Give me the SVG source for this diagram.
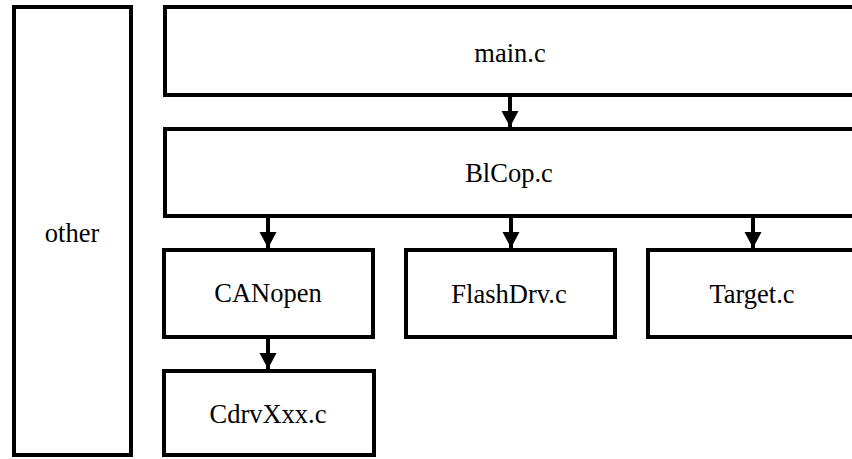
<svg xmlns="http://www.w3.org/2000/svg" width="852" height="459" viewBox="0 0 852 459">
  <style>
    .box { fill: #fff; stroke: #000; stroke-width: 4; }
    .lbl { font-size: 26.5px; fill: #000; text-anchor: middle; }
    .wire { stroke: #000; stroke-width: 4; fill: none; }
  </style>
  <defs>
    <marker id="arrow" markerUnits="userSpaceOnUse" markerWidth="18" markerHeight="18" refX="16" refY="8.5" orient="auto">
      <path d="M0,0 L16,8.5 L0,17 Z" fill="#000"/>
    </marker>
  </defs>

  <g id="other">
    <rect class="box" x="14" y="7" width="117" height="448"/>
    <text class="lbl" font-family="Liberation Serif, Tinos, Times New Roman, DejaVu Serif, serif" x="72" y="242">other</text>
  </g>
  <g id="main">
    <rect class="box" x="165" y="7" width="700" height="88"/>
    <text class="lbl" font-family="Liberation Serif, Tinos, Times New Roman, DejaVu Serif, serif" x="510" y="62">main.c</text>
  </g>
  <g id="blcop">
    <rect class="box" x="165" y="129" width="700" height="87"/>
    <text class="lbl" font-family="Liberation Serif, Tinos, Times New Roman, DejaVu Serif, serif" x="509" y="182">BlCop.c</text>
  </g>
  <g id="canopen">
    <rect class="box" x="164" y="250" width="209" height="87"/>
    <text class="lbl" font-family="Liberation Serif, Tinos, Times New Roman, DejaVu Serif, serif" x="268" y="302">CANopen</text>
  </g>
  <g id="flashdrv">
    <rect class="box" x="406" y="250" width="209" height="87"/>
    <text class="lbl" font-family="Liberation Serif, Tinos, Times New Roman, DejaVu Serif, serif" x="509" y="303">FlashDrv.c</text>
  </g>
  <g id="target">
    <rect class="box" x="648" y="250" width="230" height="87"/>
    <text class="lbl" font-family="Liberation Serif, Tinos, Times New Roman, DejaVu Serif, serif" x="752" y="303">Target.c</text>
  </g>
  <g id="cdrvxxx">
    <rect class="box" x="164" y="371" width="210" height="84"/>
    <text class="lbl" font-family="Liberation Serif, Tinos, Times New Roman, DejaVu Serif, serif" x="268" y="423">CdrvXxx.c</text>
  </g>

  <g id="connectors">
    <line class="wire" x1="510" y1="97" x2="510" y2="127" marker-end="url(#arrow)"/>
    <line class="wire" x1="268" y1="218" x2="268" y2="248" marker-end="url(#arrow)"/>
    <line class="wire" x1="511" y1="218" x2="511" y2="248" marker-end="url(#arrow)"/>
    <line class="wire" x1="753" y1="218" x2="753" y2="248" marker-end="url(#arrow)"/>
    <line class="wire" x1="268" y1="339" x2="268" y2="369" marker-end="url(#arrow)"/>
  </g>
</svg>
